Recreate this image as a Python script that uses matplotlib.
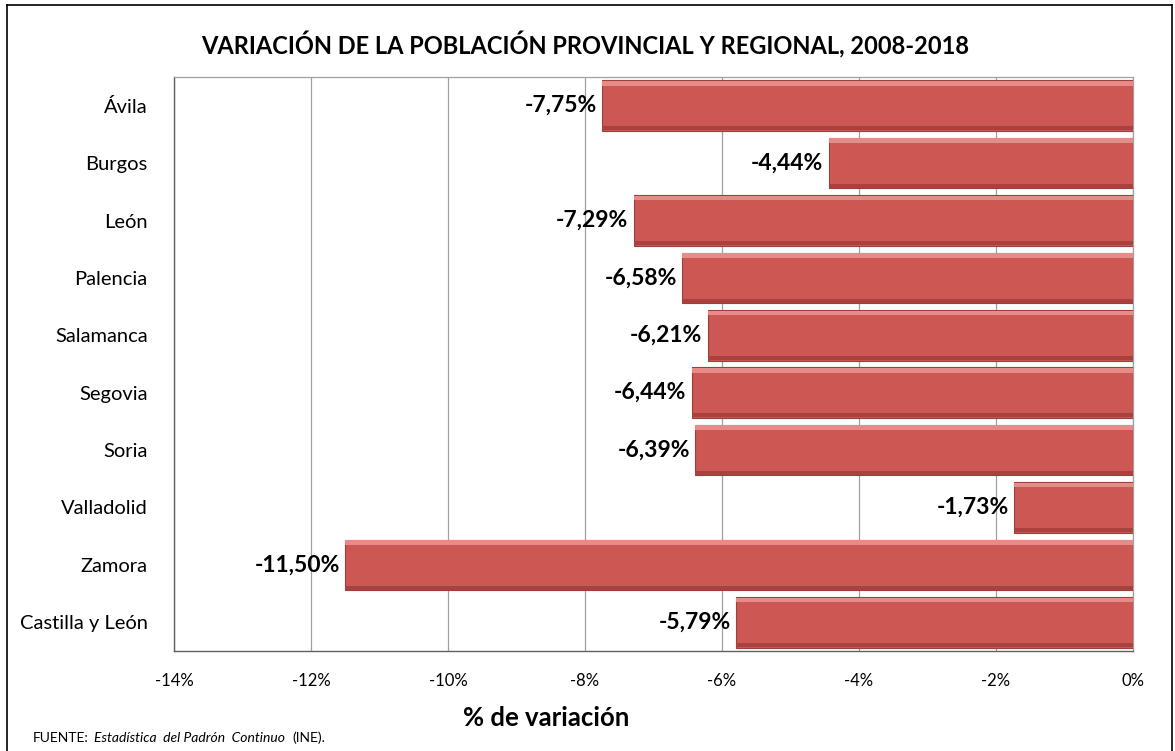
import numpy as np
import matplotlib.pyplot as plt
from matplotlib.lines import Line2D

plt.rcParams['font.family'] = ['Lato', 'DejaVu Sans']

provincias = ['Ávila', 'Burgos', 'León', 'Palencia', 'Salamanca', 'Segovia',
              'Soria', 'Valladolid', 'Zamora', 'Castilla y León']
variacion = [-7.75, -4.44, -7.29, -6.58, -6.21, -6.44, -6.39, -1.73, -11.50, -5.79]
xticks = [-14, -12, -10, -8, -6, -4, -2, 0]

fig = plt.figure(figsize=(11.75, 7.51), dpi=100)
ax = fig.add_axes([174/1175, 1 - 651/751, (1133 - 174)/1175, (651 - 77)/751])

y = np.arange(len(provincias))
h = 0.88
# main bar plus a light top highlight and a darker bottom shade (bevel look)
# (y axis is inverted, so y - h/2 is the top edge)
ax.barh(y, variacion, height=h, color='#CC5753', edgecolor='#9E3F3C', linewidth=0.8, zorder=3)
ax.barh(y - h/2 + 0.05, variacion, height=0.08, color='#E68B87', linewidth=0, zorder=4)
ax.barh(y + h/2 - 0.045, variacion, height=0.07, color='#A8423F', linewidth=0, zorder=4)

for yi, v in zip(y, variacion):
    txt = f'{v:.2f}%'.replace('.', ',')
    ax.text(v - 0.08, yi, txt, ha='right', va='center', fontsize=16.5,
            fontweight='bold', color='black', zorder=5)

ax.set_xlim(-14, 0)
ax.set_ylim(len(provincias) - 0.5, -0.5)
ax.set_xticks(xticks)
ax.set_xticklabels([f'{t}%' for t in xticks], fontsize=12)
ax.set_yticks(y)
ax.set_yticklabels(provincias, fontsize=14.5)
ax.tick_params(axis='y', length=0, pad=19)
ax.tick_params(axis='x', length=0, pad=16)
ax.grid(axis='x', color='#A0A0A0', linewidth=0.9, zorder=0)
for s in ['top', 'right']:
    ax.spines[s].set_color('#A0A0A0')
    ax.spines[s].set_linewidth(0.9)
for s in ['left', 'bottom']:
    ax.spines[s].set_color('#606060')
    ax.spines[s].set_linewidth(1.0)

fig.text(585/1175, 1 - 45/751, 'VARIACIÓN DE LA POBLACIÓN PROVINCIAL Y REGIONAL, 2008-2018',
         ha='center', va='center', fontsize=17, fontweight='bold')
fig.text(546/1175, 1 - 718/751, '% de variación', ha='center', va='center',
         fontsize=18.5, fontweight='bold')

# source line, pieces chained one after another
t1 = fig.text(33/1175, 1 - 738/751, 'FUENTE:', ha='left', va='center', fontsize=10)
t2 = ax.annotate('Estadística  del Padrón  Continuo', xy=(1, 0.5), xycoords=t1,
                 xytext=(4, 0), textcoords='offset points', ha='left', va='center',
                 fontsize=10, style='italic', annotation_clip=False)
ax.annotate('(INE).', xy=(1, 0.5), xycoords=t2, xytext=(5, 0), textcoords='offset points',
            ha='left', va='center', fontsize=10, annotation_clip=False)

# outer frame
fx0, fx1, fy1 = 7/1175, 1172/1175, 1 - 5/751
for xs, ys in [([fx0, fx0], [0, fy1]), ([fx0, fx1], [fy1, fy1]), ([fx1, fx1], [fy1, 0])]:
    fig.add_artist(Line2D(xs, ys, color='black', linewidth=1.2, transform=fig.transFigure))

plt.savefig('out.png', dpi=100)
